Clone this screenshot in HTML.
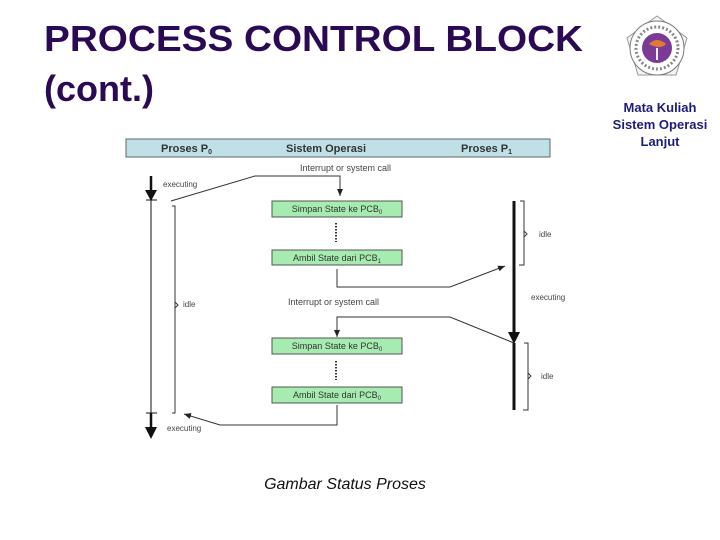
<!DOCTYPE html>
<html><head><meta charset="utf-8"><style>
html,body{margin:0;padding:0;background:#fff;}
svg{display:block;font-family:"Liberation Sans",sans-serif;}
</style></head><body>
<svg width="720" height="540" viewBox="0 0 720 540" xmlns="http://www.w3.org/2000/svg">
<defs>
<marker id="ah" markerWidth="8" markerHeight="8" refX="7" refY="4" orient="auto" markerUnits="userSpaceOnUse"><path d="M0,1 L7,4 L0,7 Z" fill="#222"/></marker>
</defs>
<text x="44" y="51" font-size="36" font-weight="bold" fill="#2b0a55" textLength="539" lengthAdjust="spacingAndGlyphs">PROCESS CONTROL BLOCK</text>
<text x="44" y="101" font-size="36" font-weight="bold" fill="#2b0a55">(cont.)</text>
<!-- logo -->
<g transform="translate(657,48)">
<path d="M0,-32 L30,-10 L19,27 L-19,27 L-30,-10 Z" fill="#f4f4f4" stroke="#999" stroke-width="1"/>
<circle r="27" fill="#fff" stroke="#777" stroke-width="1"/>
<circle r="21" fill="#fff" stroke="#888" stroke-width="3" stroke-dasharray="2 2"/>
<circle r="15" fill="#7b3a96"/>
<path d="M-8,-4 Q0,-12 9,-4 Q3,2 -8,-4Z" fill="#e07a30"/>
<rect x="-1" y="0" width="2" height="12" fill="#eee"/>
</g>
<g font-size="13" font-weight="bold" fill="#1c1c7a" text-anchor="middle">
<text x="660" y="112">Mata Kuliah</text>
<text x="660" y="129">Sistem Operasi</text>
<text x="660" y="146">Lanjut</text>
</g>
<!-- header -->
<rect x="126" y="139" width="424" height="18" fill="#bfe0e6" stroke="#666" stroke-width="1"/>
<text x="161" y="152" font-size="11" font-weight="bold" fill="#333">Proses P<tspan font-size="7" dy="2">0</tspan></text>
<text x="286" y="152" font-size="11" font-weight="bold" fill="#333">Sistem Operasi</text>
<text x="461" y="152" font-size="11" font-weight="bold" fill="#333">Proses P<tspan font-size="7" dy="2">1</tspan></text>
<g font-size="9" fill="#444">
<text x="300" y="171">Interrupt or system call</text>
<text x="288" y="305">Interrupt or system call</text>
<text x="163" y="187" font-size="8">executing</text>
<text x="183" y="307" font-size="8">idle</text>
<text x="167" y="431" font-size="8">executing</text>
<text x="539" y="237" font-size="8">idle</text>
<text x="531" y="300" font-size="8">executing</text>
<text x="541" y="379" font-size="8">idle</text>
</g>
<!-- left timeline -->
<g stroke="#111" fill="#111">
<line x1="151" y1="176" x2="151" y2="193" stroke-width="2.5"/>
<path d="M145,190 L157,190 L151,201 Z" stroke="none"/>
<line x1="151" y1="200" x2="151" y2="414" stroke-width="1"/>
<line x1="146" y1="200" x2="157" y2="200" stroke-width="1"/>
<line x1="146" y1="413" x2="157" y2="413" stroke-width="1"/>
<line x1="151" y1="413" x2="151" y2="430" stroke-width="2.5"/>
<path d="M145,427 L157,427 L151,439 Z" stroke="none"/>
</g>
<g stroke="#333" fill="none" stroke-width="1">
<path d="M172,206 L175,206 L175,413 L172,413"/>
<path d="M175,302 L178,305 L175,308"/>
<path d="M520,201 L524,201 L524,265 L519,265"/>
<path d="M524,231 L527,234 L524,237"/>
<path d="M524,343 L528,343 L528,410 L523,410"/>
<path d="M528,373 L531,376 L528,379"/>
<path d="M171,201 L255,176 L340,176 L340,196" marker-end="url(#ah)"/>
<path d="M337,269 L337,287 L450,287 L505,266" marker-end="url(#ah)"/>
<path d="M514,343 L450,317 L337,317 L337,337" marker-end="url(#ah)"/>
<path d="M337,405 L337,425 L220,425 L184,414" marker-end="url(#ah)"/>
</g>
<!-- right timeline -->
<line x1="514" y1="201" x2="514" y2="336" stroke="#111" stroke-width="3"/>
<path d="M508,332 L520,332 L514,344 Z" fill="#111"/>
<line x1="514" y1="343" x2="514" y2="410" stroke="#111" stroke-width="3"/>
<!-- boxes -->
<g font-size="9" fill="#333">
<rect x="272" y="201" width="130" height="16" fill="#a6ecb0" stroke="#555"/>
<text x="337" y="212" text-anchor="middle">Simpan State ke PCB<tspan font-size="6" dy="2">0</tspan></text>
<rect x="272" y="250" width="130" height="15" fill="#a6ecb0" stroke="#555"/>
<text x="337" y="261" text-anchor="middle">Ambil State dari PCB<tspan font-size="6" dy="2">1</tspan></text>
<rect x="272" y="338" width="130" height="16" fill="#a6ecb0" stroke="#555"/>
<text x="337" y="349" text-anchor="middle">Simpan State ke PCB<tspan font-size="6" dy="2">0</tspan></text>
<rect x="272" y="387" width="130" height="16" fill="#a6ecb0" stroke="#555"/>
<text x="337" y="398" text-anchor="middle">Ambil State dari PCB<tspan font-size="6" dy="2">0</tspan></text>
</g>
<line x1="336" y1="223" x2="336" y2="242" stroke="#333" stroke-width="2" stroke-dasharray="1.5 1.5"/>
<line x1="336" y1="361" x2="336" y2="380" stroke="#333" stroke-width="2" stroke-dasharray="1.5 1.5"/>
<text x="345" y="489" font-size="16" font-style="italic" fill="#111" text-anchor="middle">Gambar Status Proses</text>
</svg>
</body></html>
